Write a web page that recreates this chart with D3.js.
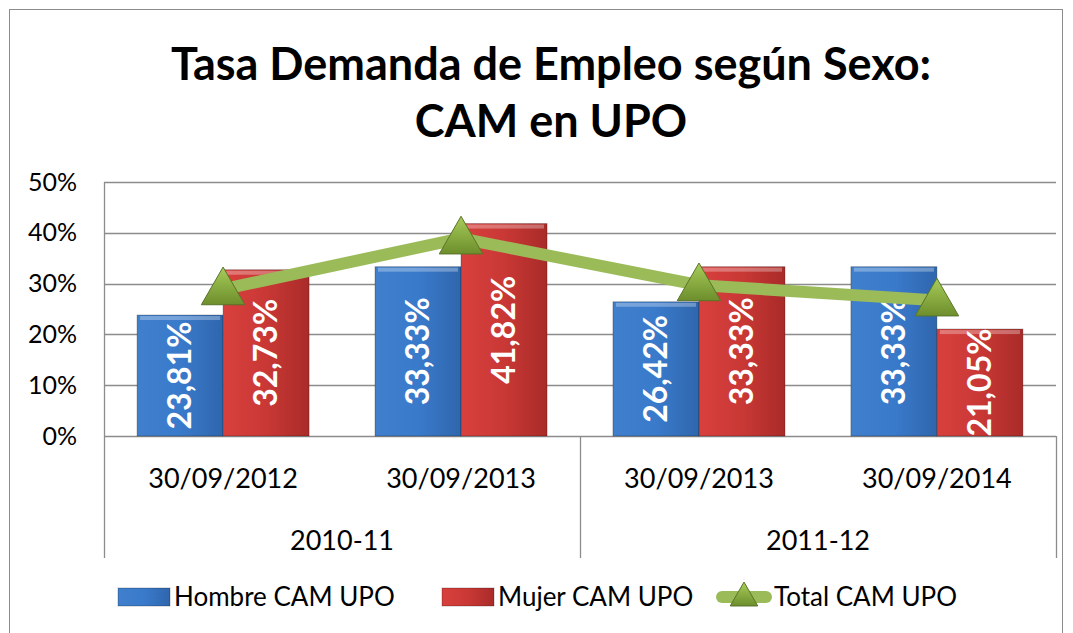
<!DOCTYPE html>
<html>
<head>
<meta charset="utf-8">
<script src="https://cdn.jsdelivr.net/npm/d3@7"></script>
<style>
body { margin: 0; background: #fff; }
text { font-family: Lato, "Open Sans", sans-serif; }
</style>
</head>
<body>
<svg width="1073" height="633"></svg>
<script>
// data
var fechas = ['30/09/2012', '30/09/2013', '30/09/2013', '30/09/2014'];
var cursos = ['2010-11', '2011-12'];
var hombre = [23.81, 33.33, 26.42, 33.33];
var mujer = [32.73, 41.82, 33.33, 21.05];
var total = [28.9, 38.9, 29.7, 26.7];
var ticks = [0, 10, 20, 30, 40, 50];

var svg = d3.select('svg');
var pl = 104, pr = 1056, pt = 182, pb = 436;

var defs = svg.append('defs');
function grad(id, c1, c2, c3) {
	var g = defs.append('linearGradient').attr('id', id)
		.attr('x1', 0).attr('y1', 0).attr('x2', 1).attr('y2', 0);
	g.append('stop').attr('offset', '0%').attr('stop-color', c1);
	g.append('stop').attr('offset', '50%').attr('stop-color', c2);
	g.append('stop').attr('offset', '100%').attr('stop-color', c3);
}
grad('gBlue', '#3f7fcc', '#3a7acb', '#2f66ad');
grad('gRed', '#d8403d', '#c93835', '#a92b29');

// outer frame
svg.append('rect').attr('x', 9.5).attr('y', 9.5).attr('width', 1053).attr('height', 630)
	.attr('fill', 'none').attr('stroke', '#8c8c8c');

// title
svg.append('text').attr('x', 551).attr('y', 80).attr('text-anchor', 'middle')
	.style('font-weight', 'bold').style('font-size', '45px').text('Tasa Demanda de Empleo según Sexo:');
svg.append('text').attr('x', 551).attr('y', 137).attr('text-anchor', 'middle')
	.style('font-weight', 'bold').style('font-size', '45px').text('CAM en UPO');

var y = d3.scaleLinear().domain([0, 50]).range([pb, pt]);
var x = d3.scaleBand().domain(d3.range(fechas.length)).range([pl, pr]).paddingInner(0.277).paddingOuter(0.139);

// gridlines
svg.append('g').selectAll('line').data(ticks).join('line')
	.attr('x1', pl).attr('x2', pr)
	.attr('y1', function(d){ return Math.round(y(d)) + 0.5; })
	.attr('y2', function(d){ return Math.round(y(d)) + 0.5; })
	.attr('stroke', '#8c8c8c').attr('stroke-width', 1.3);

// y axis labels
var yAxis = d3.axisLeft(y).tickValues(ticks).tickSize(0).tickPadding(0)
	.tickFormat(function(d){ return d + '%'; });
var ya = svg.append('g').attr('transform', 'translate(77,0)').call(yAxis);
ya.select('.domain').remove();
ya.selectAll('text').style('font-size', '25px').style('font-family', 'Lato, sans-serif').attr('fill', '#000');

// axis verticals
var bot = 558;
svg.append('line').attr('x1', pl + 0.5).attr('x2', pl + 0.5).attr('y1', pt).attr('y2', bot).attr('stroke', '#8c8c8c').attr('stroke-width', 1.3);
svg.append('line').attr('x1', (pl + pr) / 2 + 0.5).attr('x2', (pl + pr) / 2 + 0.5).attr('y1', pb).attr('y2', bot).attr('stroke', '#8c8c8c').attr('stroke-width', 1.3);
svg.append('line').attr('x1', pr + 0.5).attr('x2', pr + 0.5).attr('y1', pb).attr('y2', bot).attr('stroke', '#8c8c8c').attr('stroke-width', 1.3);

var bw = x.bandwidth() / 2;

function bars(vals, off, fill) {
	var g = svg.append('g');
	g.selectAll('rect.b').data(vals).join('rect').attr('class', 'b')
		.attr('x', function(d, i){ return x(i) + off; })
		.attr('y', function(d){ return y(d); })
		.attr('width', bw).attr('height', function(d){ return pb - y(d); })
		.attr('fill', fill).attr('stroke', 'rgba(0,0,0,0.25)').attr('stroke-width', 1);
	// bevel highlight top
	g.selectAll('rect.h').data(vals).join('rect').attr('class', 'h')
		.attr('x', function(d, i){ return x(i) + off + 3; })
		.attr('y', function(d){ return y(d) + 1; })
		.attr('width', bw - 6).attr('height', 4)
		.attr('fill', 'rgba(255,255,255,0.3)');
	return g;
}
bars(hombre, 0, 'url(#gBlue)');
bars(mujer, bw, 'url(#gRed)');

function labels(vals, off) {
	svg.append('g').selectAll('text').data(vals).join('text')
		.attr('transform', function(d, i){
			return 'translate(' + (x(i) + off + bw / 2 + 11) + ',' + ((y(d) + pb) / 2) + ') rotate(-90)';
		})
		.attr('text-anchor', 'middle')
		.style('font-size', '32px').style('font-weight', 'bold').attr('fill', '#fff')
		.text(function(d){ return d.toFixed(2).replace('.', ',') + '%'; });
}
labels(hombre, 0);
labels(mujer, bw);

// total line
var line = d3.line().x(function(d, i){ return x(i) + bw; }).y(function(d){ return y(d); });
svg.append('path').datum(total).attr('d', line).attr('fill', 'none')
	.attr('stroke', '#9bbb59').attr('stroke-width', 12).attr('stroke-linejoin', 'round');

defs.append('linearGradient').attr('id', 'gTri').attr('x1', 0).attr('y1', 0).attr('x2', 0).attr('y2', 1)
	.selectAll('stop').data([['0%', '#a8cc5a'], ['100%', '#6d8e2c']]).join('stop')
	.attr('offset', function(d){ return d[0]; }).attr('stop-color', function(d){ return d[1]; });

var tri = d3.symbol().type(d3.symbolTriangle).size(820);
svg.append('g').selectAll('path').data(total).join('path')
	.attr('transform', function(d, i){ return 'translate(' + (x(i) + bw) + ',' + (y(d) + 3) + ')'; })
	.attr('d', tri).attr('fill', 'url(#gTri)').attr('stroke', '#5a7428').attr('stroke-width', 1);

// category labels
svg.append('g').selectAll('text').data(fechas).join('text')
	.attr('x', function(d, i){ return x(i) + bw; }).attr('y', 488)
	.attr('text-anchor', 'middle').style('font-size', '27px').text(function(d){ return d; });
svg.append('g').selectAll('text').data(cursos).join('text')
	.attr('x', function(d, i){ return pl + (pr - pl) / 4 * (2 * i + 1); }).attr('y', 550)
	.attr('text-anchor', 'middle').style('font-size', '27px').text(function(d){ return d; });

// legend
var leg = [
	{name: 'Hombre CAM UPO', x: 118, fill: 'url(#gBlue)'},
	{name: 'Mujer CAM UPO', x: 442, fill: 'url(#gRed)'},
	{name: 'Total CAM UPO', x: 718, fill: null}
];
var lg = svg.append('g');
leg.forEach(function(l){
	if (l.fill) {
		lg.append('rect').attr('x', l.x).attr('y', 588).attr('width', 52).attr('height', 18)
			.attr('fill', l.fill).attr('stroke', 'rgba(0,0,0,0.25)');
	} else {
		lg.append('line').attr('x1', l.x + 4).attr('x2', l.x + 48).attr('y1', 597).attr('y2', 597)
			.attr('stroke', '#9bbb59').attr('stroke-width', 12).attr('stroke-linecap', 'round');
		lg.append('path').attr('transform', 'translate(' + (l.x + 26) + ',598)')
			.attr('d', d3.symbol().type(d3.symbolTriangle).size(330)).attr('fill', 'url(#gTri)').attr('stroke', '#5a7428');
	}
	lg.append('text').attr('x', l.x + 56).attr('y', 606).style('font-size', '26px').text(l.name);
});
</script>
</body>
</html>
